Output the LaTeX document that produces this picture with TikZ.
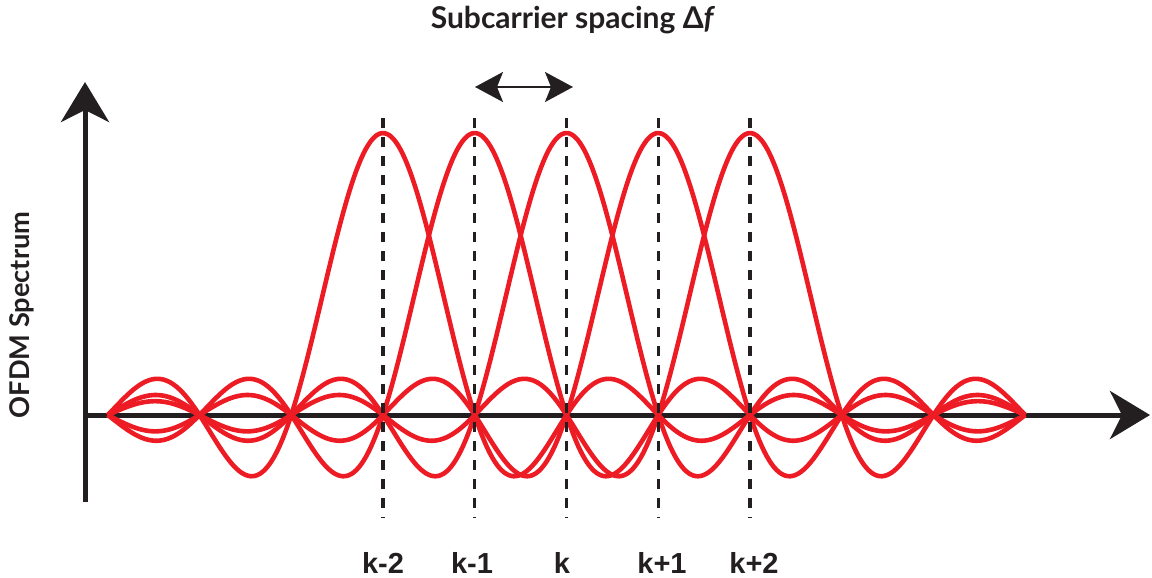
\documentclass[tikz,border=0pt]{standalone}
\usepackage{fontspec}
\setmainfont{Lato}
\newfontfamily\labelfont{Liberation Sans}
\usetikzlibrary{arrows.meta}
\definecolor{carrierred}{RGB}{237,28,36}
\definecolor{inkblack}{RGB}{35,31,32}
\newcommand{\subsp}{91.75}

\begin{document}
\begin{tikzpicture}[x=0.5pt, y=-0.5pt, every node/.style={text=inkblack},
    axisline/.style={line width=2.5pt, inkblack, -{Stealth[length=20pt, width=24pt, inset=6pt]}},
    carrier/.style={line width=2.3pt, carrierred, line join=round},
    guide/.style={line width=1.6pt, inkblack, dash pattern=on 5pt off 4.5pt},
    klabel/.style={font=\labelfont\bfseries\fontsize{14.5}{16}\selectfont}]
        \useasboundingbox (0,0) rectangle (1152,578);
        % Axes
        \coordinate (origin) at (85,415);
        \coordinate (xend) at (1150,415);
        \coordinate (ybottom) at (85,502);
        \coordinate (ytop) at (85,82);
        \draw[axisline] (origin) -- (xend);
        \draw[axisline] (ybottom) -- (ytop);
        \node[rotate=90, font=\bfseries\fontsize{13.6}{15}\selectfont] (ylabel) at (22,315) {OFDM Spectrum};
        % Subcarriers
        \foreach \n [evaluate=\n as \lo using -5-\n, evaluate=\n as \hi using 5-\n] in {-2,...,2} {
          \draw[carrier] plot[domain=\lo:\hi, samples=200, smooth]
            ({566.5+(\n+\x)*\subsp}, {415-282*sin(180*\x)/(pi*\x)});
        }
        % Guides and labels
        \foreach \n/\txt/\lx in {-2/k-2/383, -1/k-1/472, 0/k/562, 1/k+1/662, 2/k+2/754} {
          \coordinate (top\n) at ({566.5+\n*\subsp},118);
          \coordinate (bot\n) at ({566.5+\n*\subsp},518);
          \draw[guide] (top\n) -- (bot\n);
          \node[klabel] (lbl\n) at (\lx,563) {\txt};
        }
        % Spacing
        \coordinate (dfleft) at (475,87);
        \coordinate (dfright) at (573,87);
        \draw[line width=1pt, inkblack, {Stealth[length=14pt, width=15pt, inset=3pt]}-{Stealth[length=14pt, width=15pt, inset=3pt]}] (dfleft) -- (dfright);
        \node[font=\bfseries\fontsize{15}{17}\selectfont] (title) at (573,20) {Subcarrier spacing Δ\textit{f}};
      \end{tikzpicture}
\end{document}
